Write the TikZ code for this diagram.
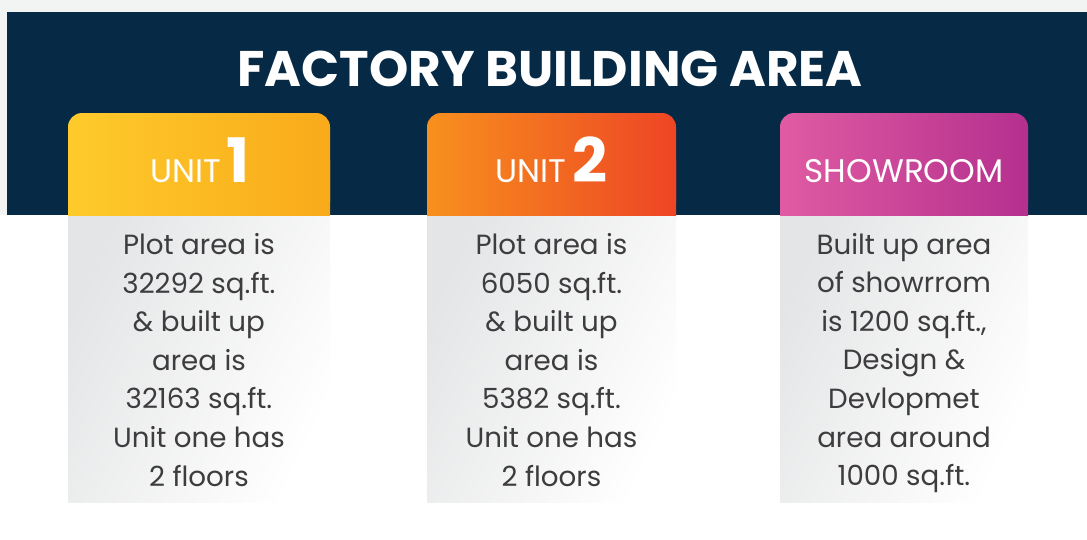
\documentclass[tikz,border=0pt]{standalone}
\usepackage{fontspec}
\setmainfont{Poppins}
\usetikzlibrary{positioning}

\definecolor{navy}{HTML}{062945}
\definecolor{pagegray}{HTML}{F2F3F3}
\definecolor{boxgray}{HTML}{E4E5E6}
\definecolor{ink}{HTML}{3D3C3E}
\definecolor{yelA}{HTML}{FECB2B}
\definecolor{yelB}{HTML}{F9AA1A}
\definecolor{oraA}{HTML}{F7901E}
\definecolor{oraB}{HTML}{EE4524}
\definecolor{pinA}{HTML}{E05BA2}
\definecolor{pinB}{HTML}{B4308E}

\begin{document}
\begin{tikzpicture}
[
  x=0.75pt, y=-0.75pt,
  every node/.style={inner sep=0pt, outer sep=0pt},
  headtext/.style={text=white, font=\fontsize{24.5}{28}\selectfont},
  bodytext/.style={text=ink, align=center, font=\fontsize{20.8}{28.9}\selectfont},
]
\useasboundingbox (0,0) rectangle (1087,539);
\fill[white] (0,0) rectangle (1087,539);
\fill[pagegray] (0,0) rectangle (1087,12);
\fill[pagegray] (0,0) rectangle (7,215);
\fill[navy] (7,12) rectangle (1087,215);

\node[anchor=base, text=white, font=\fontsize{37.5}{40}\selectfont\bfseries] (title) at (550,86) {FACTORY BUILDING AREA};

% one card: left x, right x, left colour, right colour
\def \card(#1,#2,#3,#4) {
  \shade[left color=#3, right color=#4, rounded corners=10.5pt] (#1,113) rectangle (#2,216);
  \shade[left color=#3, right color=#4] (#1,160) rectangle (#2,216);
  \shade[top color=boxgray, bottom color=white, shading angle=65] (#1,216) rectangle (#2,502);
}

\card(68,330,yelA,yelB)
\card(427,676,oraA,oraB)
\card(780,1028,pinA,pinB)

\node[headtext, anchor=base] (unit1) at (200,182) {UNIT\,{\fontsize{46}{50}\selectfont\bfseries 1}};
\node[headtext, anchor=base] (unit2) at (551.5,182) {UNIT\,{\fontsize{46}{50}\selectfont\bfseries 2}};
\node[headtext, anchor=base] (show) at (904,182) {SHOWROOM};

\node[bodytext] (unit1txt) at (199,360) {Plot area is\\32292 sq.ft.\\\& built up\\area is\\32163 sq.ft.\\Unit one has\\2 floors};
\node[bodytext] (unit2txt) at (551.5,360) {Plot area is\\6050 sq.ft.\\\& built up\\area is\\5382 sq.ft.\\Unit one has\\2 floors};
\node[bodytext] (showtxt) at (904,363) {Built up area\\of showrrom\\is 1200 sq.ft.,\\Design \&\\Devlopmet\\area around\\1000 sq.ft.};

\end{tikzpicture}
\end{document}
